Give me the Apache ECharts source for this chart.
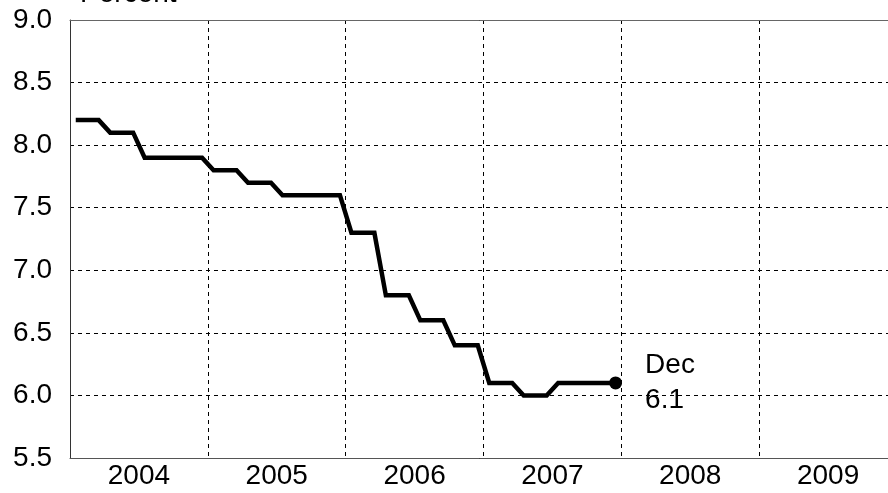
<!DOCTYPE html>
<html>
<head>
<meta charset="utf-8">
<script src="https://cdn.jsdelivr.net/npm/echarts@6/dist/echarts.min.js"></script>
<style>
  html, body { margin: 0; padding: 0; background: #fff; }
  #chart { width: 888px; height: 493px; }
</style>
</head>
<body>
<div id="chart"></div>
<script>
// year labels on the x axis
const years = ['2004', '2005', '2006', '2007', '2008', '2009']
// first month shown
const startYear = 2004
// monthly rate, Jan 2004 .. Dec 2007 (percent)
const rate = [
  8.2, 8.2, 8.2, 8.1, 8.1, 8.1, 7.9, 7.9, 7.9, 7.9, 7.9, 7.9,
  7.8, 7.8, 7.8, 7.7, 7.7, 7.7, 7.6, 7.6, 7.6, 7.6, 7.6, 7.6,
  7.3, 7.3, 7.3, 6.8, 6.8, 6.8, 6.6, 6.6, 6.6, 6.4, 6.4, 6.4,
  6.1, 6.1, 6.1, 6.0, 6.0, 6.0, 6.1, 6.1, 6.1, 6.1, 6.1, 6.1,
]
const lastLabel = 'Dec'

const font = 'Liberation Sans, Arial, sans-serif'
const fontSize = 28

// month i sits in the middle of its month on the year scale
const points = rate.map((v, i) => [startYear + (i + 0.5) / 12, v])
const last = points[points.length - 1]

const dashed = { color: '#000', width: 1, type: [4, 4] }

const option = {
  animation: false,
  textStyle: { fontFamily: font },
  title: {
    text: 'Percent',
    left: 75,
    top: -25,
    textStyle: { fontSize: fontSize, fontWeight: 'normal', color: '#000', fontFamily: font },
  },
  // plot runs past the right edge of the picture (2009 is cut)
  grid: { left: 70, width: 827, top: 20, bottom: 35, outerBoundsMode: 'none' },
  xAxis: [
    {
      // labels in the middle of each year
      type: 'category',
      data: years,
      position: 'bottom',
      boundaryGap: true,
      axisLine: { lineStyle: { color: '#555', width: 1 } },
      axisTick: { show: false },
      axisLabel: { color: '#000', fontSize: fontSize, margin: 4, fontFamily: font },
      splitLine: { show: false },
    },
    {
      // year boundaries
      type: 'value',
      min: startYear,
      max: startYear + years.length,
      interval: 1,
      position: 'top',
      axisLine: { show: true, lineStyle: { color: '#666', width: 1 } },
      axisTick: { show: false },
      axisLabel: { show: false },
      splitLine: { show: true, lineStyle: dashed },
    },
  ],
  yAxis: {
    type: 'value',
    min: 5.5,
    max: 9,
    interval: 0.5,
    axisLine: { show: true, lineStyle: { color: '#333', width: 1 } },
    axisTick: { show: false },
    axisLabel: {
      color: '#000',
      fontSize: fontSize,
      margin: 18,
      fontFamily: font,
      formatter: (v) => v.toFixed(1),
    },
    splitLine: { show: true, lineStyle: dashed },
  },
  series: [
    {
      type: 'line',
      xAxisIndex: 1,
      data: points,
      showSymbol: false,
      lineStyle: { color: '#000', width: 4.5, join: 'miter' },
      z: 3,
    },
    {
      type: 'scatter',
      xAxisIndex: 1,
      data: [last],
      symbol: 'circle',
      symbolSize: 13,
      itemStyle: { color: '#000', opacity: 1 },
      label: {
        show: true,
        position: 'right',
        distance: 23,
        color: '#000',
        fontSize: fontSize,
        lineHeight: 35,
        fontFamily: font,
        formatter: (p) => lastLabel + '\n' + p.value[1].toFixed(1),
      },
      z: 4,
    },
  ],
}

const chart = echarts.init(document.getElementById('chart'))
chart.setOption(option)
</script>
</body>
</html>
